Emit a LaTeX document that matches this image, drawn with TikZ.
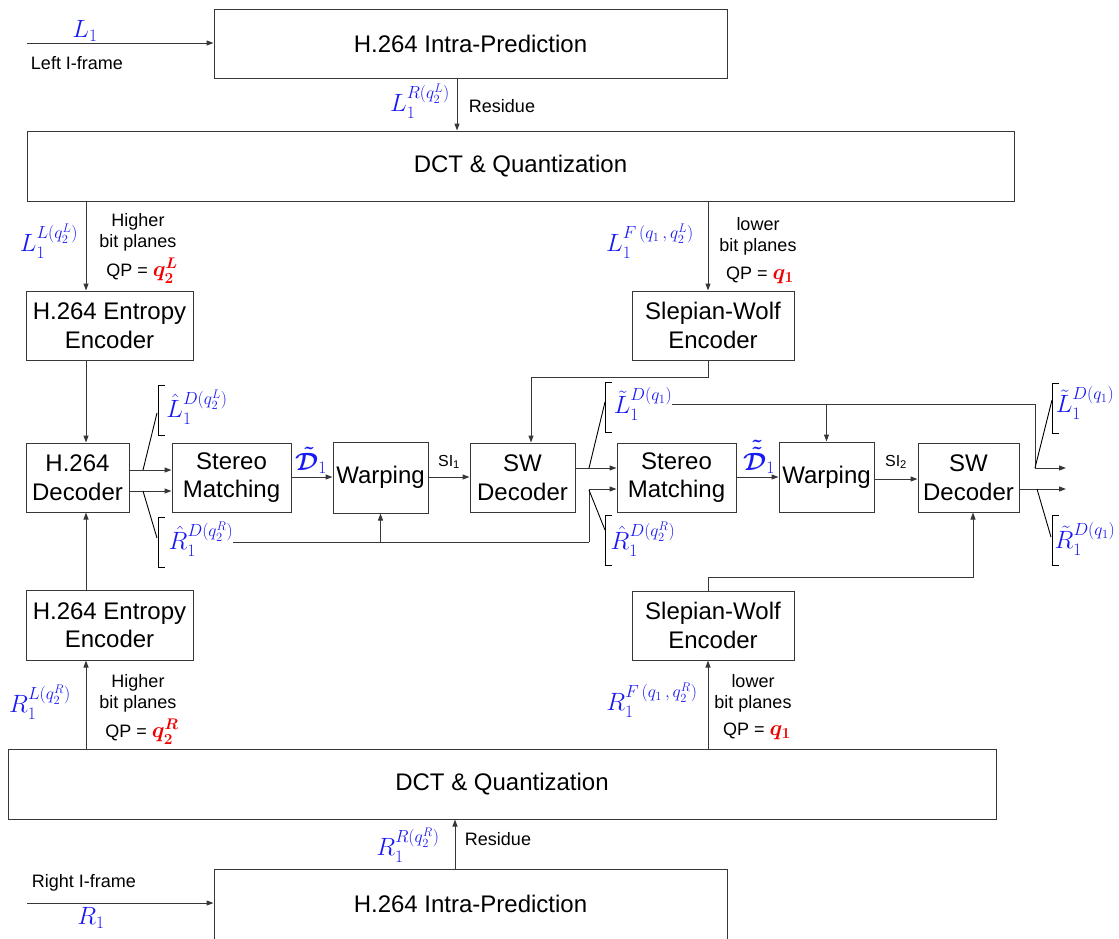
\documentclass[tikz,border=0pt]{standalone}
\usepackage{fix-cm}
\usepackage{amsmath}
\usepackage{fontspec}
\setmainfont{Liberation Sans}
\usetikzlibrary{arrows.meta}

\definecolor{lblue}{RGB}{25,25,245}
\definecolor{qred}{RGB}{240,0,0}
\definecolor{edge}{RGB}{55,55,55}

\tikzset{
  box/.style={draw=edge, line width=1pt, inner sep=0pt, align=center,
              font=\fontsize{24}{28.5}\selectfont},
  arr/.style={draw=edge, line width=1pt, -{Triangle[length=7pt,width=5pt]}},
  ln/.style={draw=edge, line width=1pt},
  brk/.style={draw=black, line width=0.9pt},
  note/.style={inner sep=0pt, align=center, font=\fontsize{18}{21}\selectfont},
  small/.style={inner sep=0pt, font=\fontsize{16}{19}\selectfont},
  sym/.style={inner sep=0pt, text=lblue, font=\fontsize{25}{29}\selectfont},
}
\newcommand{\qp}[1]{QP = {\fontsize{22}{26}\selectfont\textcolor{qred}{$\boldsymbol{#1}$}}}

\begin{document}
\begin{tikzpicture}[x=1pt,y=-1pt]
\useasboundingbox (0,0) rectangle (1119,938);
\clip (0,0) rectangle (1119,938);

% ---------- processing blocks ----------
\node[box, minimum width=513, minimum height=69] (intraL) at (470.5,43.5) {H.264 Intra-Prediction};
\node[box, minimum width=987, minimum height=70] (dctL) at (520.5,166) {DCT \& Quantization};
\node[box, minimum width=167, minimum height=69] (entL) at (109.5,325.5) {H.264 Entropy\\Encoder};
\node[box, minimum width=162, minimum height=69] (swe1) at (713,325.5) {Slepian-Wolf\\Encoder};
\node[box, minimum width=103, minimum height=69] (dec) at (77.5,477.5) {H.264\\Decoder};
\node[box, minimum width=119, minimum height=69] (sm1) at (231.5,477.5) {Stereo\\Matching};
\node[box, minimum width=95, minimum height=71] (warp1) at (380.5,477.5) {Warping};
\node[box, minimum width=105, minimum height=69] (swd1) at (522.5,477.5) {SW\\Decoder};
\node[box, minimum width=119, minimum height=69] (sm2) at (676.5,477.5) {Stereo\\Matching};
\node[box, minimum width=95, minimum height=70] (warp2) at (826.5,477) {Warping};
\node[box, minimum width=101, minimum height=69] (swd2) at (968.5,477.5) {SW\\Decoder};
\node[box, minimum width=167, minimum height=70] (entR) at (109.5,625) {H.264 Entropy\\Encoder};
\node[box, minimum width=162, minimum height=69] (swe2) at (713,625.5) {Slepian-Wolf\\Encoder};
\node[box, minimum width=988, minimum height=70] (dctR) at (502,784) {DCT \& Quantization};
\node[box, minimum width=513, text height=43, text depth=60, anchor=base] (intraR) at (470.5,912) {H.264 Intra-Prediction};

% ---------- free ends ----------
\coordinate (inL) at (27,43);
\coordinate (inR) at (27,903);
\coordinate (outT) at (1066,468);
\coordinate (outB) at (1066,489);

% ---------- left view path ----------
\draw[arr] (inL) -- (inL -| intraL.west);
\draw[arr] (intraL.south -| 457,0) -- (dctL.north -| 457,0);
\draw[arr] (dctL.south -| 86,0) -- (entL.north -| 86,0);
\draw[arr] (dctL.south -| 708,0) -- (swe1.north -| 708,0);
\draw[arr] (entL.south -| 86,0) -- (dec.north -| 86,0);
\draw[arr] (swe1.south -| 708,0) -- (708,377) -| (swd1.north -| 531,0);

% ---------- right view path ----------
\draw[arr] (inR) -- (inR -| intraR.west);
\draw[arr] (intraR.north -| 455,0) -- (dctR.south -| 455,0);
\draw[arr] (dctR.north -| 86,0) -- (entR.south -| 86,0);
\draw[arr] (dctR.north -| 708,0) -- (swe2.south -| 708,0);
\draw[arr] (entR.north -| 86,0) -- (dec.south -| 86,0);
\draw[arr] (swe2.north -| 708,0) -- (708,577) -| (swd2.south -| 973,0);

% ---------- decoding chain ----------
\draw[arr] (dec.east |- 0,470) -- (sm1.west |- 0,470);
\draw[arr] (dec.east |- 0,491) -- (sm1.west |- 0,491);
\draw[arr] (sm1.east |- 0,477) -- (warp1.west |- 0,477);
\draw[arr] (warp1.east |- 0,477) -- (swd1.west |- 0,477);
\draw[arr] (swd1.east |- 0,468) -- (sm2.west |- 0,468);
\draw[arr] (sm2.east |- 0,477) -- (warp2.west |- 0,477);
\draw[arr] (warp2.east |- 0,479) -- (swd2.west |- 0,479);
\draw[arr] (swd2.east |- 0,489) -- (outB);

% ---------- signal labels ----------
\node[sym] (lL1) at (85,31) {$L_1$};
\node[note] (tLeft) at (77,63) {Left I-frame};
\node[sym] (lRes) at (420,101) {$L_1^{R(q_2^L)}$};
\node[note] (tRes1) at (502,106) {Residue};
\node[sym] (lLow) at (49,241) {$L_1^{L(q_2^L)}$};
\node[note] (tHigh1) at (138,232.5) {Higher\\bit planes};
\node[note] (tQP1) at (142,271) {\qp{q_2^L}};
\node[sym] (lLF) at (650,241) {$L_1^{F\,(q_1\,,\,q_2^L)}$};
\node[note] (tLow1) at (758,236.5) {lower\\bit planes};
\node[note] (tQP2) at (760,275) {\qp{q_1}};

\node[sym] (lRL) at (40,702) {$R_1^{L(q_2^R)}$};
\node[note] (tHigh2) at (138,693) {Higher\\bit planes};
\node[note] (tQP3) at (142,732) {\qp{q_2^R}};
\node[sym] (lRF) at (652,700) {$R_1^{F\,(q_1\,,\,q_2^R)}$};
\node[note] (tLow2) at (753,693) {lower\\bit planes};
\node[note] (tQP4) at (757,731) {\qp{q_1}};
\node[sym] (lRRes) at (408,845) {$R_1^{R(q_2^R)}$};
\node[note] (tRes2) at (498,839) {Residue};
\node[note] (tRight) at (84,883) {Right I-frame};
\node[sym] (lR1) at (91,918) {$R_1$};

% ---------- decoder outputs and side information ----------
\node[sym] (hL) at (197,407) {$\hat{L}_1^{D(q_2^L)}$};
\node[sym] (hR) at (201,539) {$\hat{R}_1^{D(q_2^R)}$};
\node[sym, anchor=south] (tD1) at (311,474) {$\boldsymbol{\tilde{\mathcal{D}}}_{1}$};
\node[small] (si1) at (449,462) {SI\textsubscript{1}};
\node[sym] (tL2) at (643,404) {$\tilde{L}_1^{D(q_1)}$};
\node[sym] (hR2) at (643,539) {$\hat{R}_1^{D(q_2^R)}$};
\node[sym, anchor=south] (tD2) at (759,474) {$\boldsymbol{\tilde{\tilde{\mathcal{D}}}}_{1}$};
\node[small] (si2) at (896,462) {SI\textsubscript{2}};
\node[sym] (tL3) at (1085,403) {$\tilde{L}_1^{D(q_1)}$};
\node[sym] (tR3) at (1085,539) {$\tilde{R}_1^{D(q_1)}$};

% right-view estimate feeding warping and the second matching stage
\draw[ln] (hR.east |- 0,542) -- (589,542);
\draw[arr] (589,542) -- (589,489) -- (sm2.west |- 0,489);
\draw[arr] (warp1.south |- 0,542) -- (warp1.south);
% left-view estimate feeding the second warping and the output
\draw[ln] (tL2.east |- 0,404) -- (1035,404);
\draw[arr] (1035,404) -- (1035,468) -- (outT);
\draw[arr] (warp2.north |- 0,404) -- (warp2.north);

% ---------- brackets ----------
\draw[brk] (143,470) -- (157,413);
\draw[brk] (165,385) -- (158,385) -- (158,435) -- (165,435);
\draw[brk] (143,491) -- (157,538);
\draw[brk] (165,517) -- (158,517) -- (158,567) -- (165,567);

\draw[brk] (589,468) -- (605,402);
\draw[brk] (612,382) -- (605,382) -- (605,432) -- (612,432);
\draw[brk] (589,490) -- (605,530);
\draw[brk] (612,515) -- (605,515) -- (605,565) -- (612,565);

\draw[brk] (1035,468) -- (1052,400);
\draw[brk] (1059,383) -- (1052,383) -- (1052,433) -- (1059,433);
\draw[brk] (1037,489) -- (1051,537);
\draw[brk] (1059,515) -- (1052,515) -- (1052,565) -- (1059,565);
\end{tikzpicture}
\end{document}
